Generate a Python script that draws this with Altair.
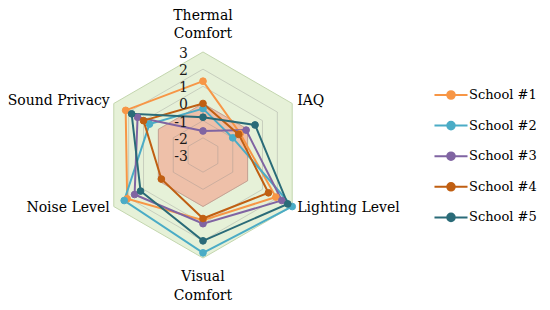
import altair as alt
import pandas as pd

# ---------------- data ----------------
categories = ["Thermal Comfort", "IAQ", "Lighting Level", "Visual Comfort", "Noise Level", "Sound Privacy"]
schools = ["School #1", "School #2", "School #3", "School #4", "School #5"]
school_1 = [1.3, -0.5, 1.9, 0.8, 2.1, 2.2]
school_2 = [-0.3, -1.0, 3.0, 2.7, 2.3, 0.6]
school_3 = [-1.6, -0.1, 2.3, 1.0, 1.6, 1.4]
school_4 = [0.0, -0.6, 1.4, 0.7, -0.2, 1.0]
school_5 = [-0.8, 0.5, 2.7, 2.0, 1.2, 1.8]
tick_values = [3, 2, 1, 0, -1, -2, -3]
axis_min = -3
colors = ["#F79646", "#4BACC6", "#8064A2", "#C05F12", "#2A6B78"]

# ---------------- tables ----------------
series = [school_1, school_2, school_3, school_4, school_5]
n = len(categories)
rows = []
for s, vals in zip(schools, series):
    for i in range(n + 1):
        rows.append({"school": s, "idx": i, "category": categories[i % n], "value": vals[i % n]})
df = pd.DataFrame(rows)

grid = pd.DataFrame([{"level": lv, "idx": i} for lv in tick_values for i in range(n + 1)])
ticks_df = pd.DataFrame({"level": tick_values, "label": [str(v) for v in tick_values]})
labels_df = pd.DataFrame({
    "idx": list(range(n)),
    "label": [c.replace(" ", "\n") if c in ("Thermal Comfort", "Visual Comfort") else c for c in categories],
    "value": [tick_values[0]] * n,
})

# ---------------- layout ----------------
W, H = 534, 294
CX, CY = 195, 147
U = 17.17
xs = alt.Scale(domain=[-CX / U, (W - CX) / U], zero=False, nice=False)
ys = alt.Scale(domain=[-(H - CY) / U, CY / U], zero=False, nice=False)
X = alt.X("x:Q", scale=xs, axis=None)
Y = alt.Y("y:Q", scale=ys, axis=None)

ANG = f"PI/2 - datum.idx*2*PI/{n}"
def polar(ch, field):
    return ch.transform_calculate(
        r=f"datum.{field} - ({axis_min})",
    ).transform_calculate(
        x=f"datum.r*cos({ANG})", y=f"datum.r*sin({ANG})"
    )

FONT = "DejaVu Serif"

green = polar(alt.Chart(grid).transform_filter(f"datum.level == {tick_values[0]}"), "level").mark_line(
    fill="#E6F1D8", stroke="#C3D6AE", strokeWidth=1
).encode(x=X, y=Y, order="idx:Q")

salmon = polar(alt.Chart(grid).transform_filter("datum.level == 0"), "level").mark_line(
    fill="#EEC0A9", stroke="#E2B09A", strokeWidth=1
).encode(x=X, y=Y, order="idx:Q")

gridlines = polar(alt.Chart(grid).transform_filter(f"datum.level > {axis_min} && datum.level < {tick_values[0]}"), "level").mark_line(
    stroke="#8a8a8a", strokeOpacity=0.33, strokeWidth=1
).encode(x=X, y=Y, detail="level:N", order="idx:Q")

sym = "M-2.36,0L2.36,0M0.54,0A0.54,0.54,0,1,1,-0.54,0A0.54,0.54,0,1,1,0.54,0Z"
legend = alt.Legend(
    title=None, orient="none", legendX=435, legendY=79, padding=0,
    symbolType=sym, symbolSize=196, symbolStrokeWidth=2, symbolOffset=0,
    labelFont=FONT, labelFontSize=13, labelColor="black", labelOffset=10,
    rowPadding=14.6,
)
cscale = alt.Scale(domain=schools, range=colors)

lines = polar(alt.Chart(df), "value").mark_line(strokeWidth=2).encode(
    x=X, y=Y, order="idx:Q",
    stroke=alt.Stroke("school:N", scale=cscale, legend=legend),
)
points = polar(alt.Chart(df).transform_filter(f"datum.idx < {n}"), "value").mark_point(
    filled=True, size=45, strokeWidth=1, opacity=1
).encode(
    x=X, y=Y,
    fill=alt.Fill("school:N", scale=cscale, legend=legend),
    stroke=alt.Stroke("school:N", scale=cscale, legend=legend),
)

tick_text = alt.Chart(ticks_df).transform_calculate(
    x="0", y=f"datum.level - ({axis_min})"
).mark_text(align="right", baseline="middle", dx=-15, dy=2, font=FONT, fontSize=14, color="#1a1a1a").encode(
    x=X, y=Y, text="label:N"
)

def cat_label(i, align, baseline, dx, dy):
    return polar(alt.Chart(labels_df).transform_filter(f"datum.idx == {i}"), "value").mark_text(
        align=align, baseline=baseline, dx=dx, dy=dy, font=FONT, fontSize=14,
        lineBreak="\n", lineHeight=18.5, color="black"
    ).encode(x=X, y=Y, text="label:N")

cat_layers = [
    cat_label(0, "center", "bottom", 0, -29),
    cat_label(1, "left", "middle", 5, -2.6),
    cat_label(2, "left", "middle", 5, 1.4),
    cat_label(3, "center", "top", 0, 12),
    cat_label(4, "right", "middle", -4, 1.4),
    cat_label(5, "right", "middle", -4, -2.6),
]

chart = alt.layer(green, salmon, gridlines, lines, points, tick_text, *cat_layers).properties(
    width=W, height=H, autosize=alt.AutoSizeParams(type="none"), padding=0, background="white"
).configure_view(stroke=None)

chart.save("out.html", embed_options={"renderer": "svg", "actions": False})
